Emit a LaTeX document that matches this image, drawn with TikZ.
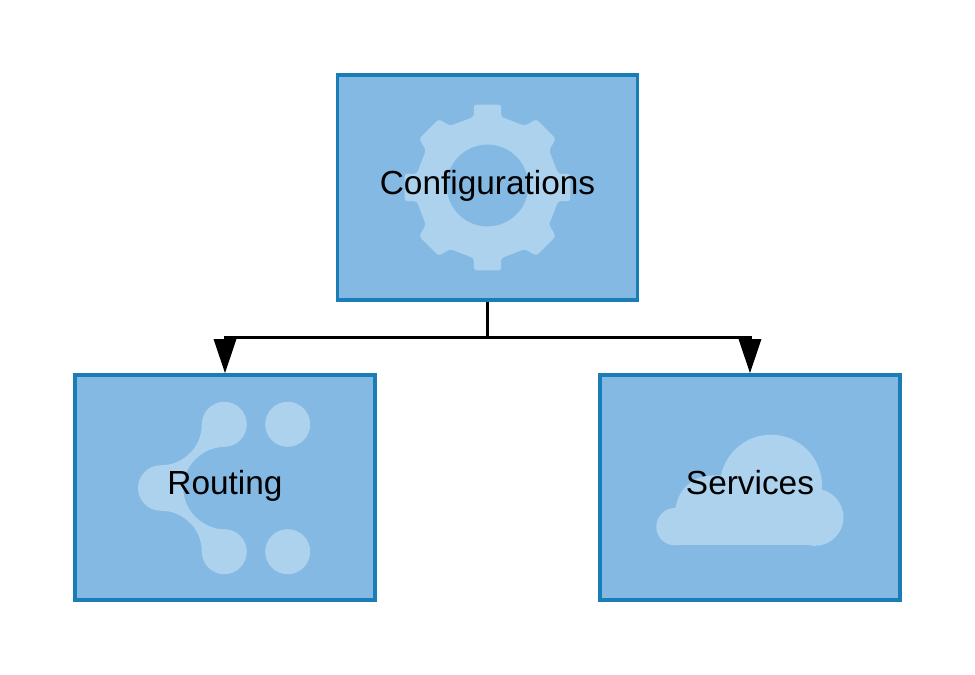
\documentclass[tikz,border=0pt]{standalone}
\usepackage{fontspec}
\setmainfont{Liberation Sans}
\usetikzlibrary{arrows.meta, positioning, backgrounds, calc}
\definecolor{boxfill}{RGB}{132,185,228}
\definecolor{boxline}{RGB}{27,125,182}
\definecolor{iconfill}{RGB}{173,210,238}
\begin{document}
\begin{tikzpicture}[
        box/.style={draw=boxline, line width=0.035cm, minimum width=3cm,
                    minimum height=2.25cm, inner sep=0pt, text height=0.22cm, text depth=0.08cm,
                    font=\fontsize{9.5}{11}\selectfont},
        icon/.style={fill=iconfill},
        conn/.style={black, line width=0.03cm},
        arr/.style={conn, -{Triangle[length=0.34cm, width=0.22cm]}}
      ]
        \useasboundingbox (0,0) rectangle (9.75,6.75);
        \node[box] (config)   at (4.875,4.875) {Configurations};
        \node[box] (routing)  at (2.25,1.875)  {Routing};
        \node[box] (services) at (7.5,1.875)   {Services};
        \coordinate (hub) at (4.875,3.375);
        % Box fills and icons go behind the labels
        \begin{scope}[on background layer, shift={(config.center)}]
          \fill[boxfill] (config.south west) rectangle (config.north east);
          \fill[icon, rounded corners=0.03cm, even odd rule]
            (-31.2:0.72) foreach \a/\b in {0/10.8,45/13.8,90/10.8,135/13.8,180/10.8,225/13.8,270/10.8,315/13.8} {
              -- (\a-\b:0.72) -- (\a-9.5:0.84) -- (\a+9.5:0.84) -- (\a+\b:0.72)
            } -- cycle
            (0.41,0.02) arc[start angle=0, end angle=360, radius=0.41];
        \end{scope}
        \begin{scope}[on background layer, shift={(routing.center)}]
          \fill[boxfill] (routing.south west) rectangle (routing.north east);
          \fill[icon] (-0.643,-0.005) circle (0.227);
          \foreach \p in {(-0.007,0.632), (0.627,0.632), (-0.007,-0.642), (0.627,-0.642)}
            \fill[icon] \p circle (0.225);
          \fill[icon] (-0.232,0.632) .. controls (-0.23,0.4) and (-0.42,0.222) .. (-0.643,0.222)
            -- (-0.643,-0.232) .. controls (-0.42,-0.232) and (-0.23,-0.41) .. (-0.232,-0.642)
            -- (-0.007,-0.642) -- (-0.007,-0.42) .. controls (-0.23,-0.41) and (-0.417,-0.23) .. (-0.417,-0.005)
            .. controls (-0.417,0.22) and (-0.23,0.4) .. (-0.007,0.407) -- (-0.007,0.632) -- cycle;
        \end{scope}
        \begin{scope}[on background layer, shift={(services.center)}]
          \fill[boxfill] (services.south west) rectangle (services.north east);
          \fill[icon] (0.21,0.018) circle (0.51);
          \fill[icon] (-0.75,-0.392) circle (0.187);
          \fill[icon] (-0.745,-0.245) arc[start angle=180, end angle=90, radius=0.365] -- (0,0.12) -- (0,-0.5) -- (-0.745,-0.5) -- cycle;
          \fill[icon] (0.65,-0.298) circle (0.285);
          \fill[icon] (-0.75,-0.579) rectangle (0.65,-0.2);
        \end{scope}
        % Tree from the top box
        \draw[conn] (config.south) -- (hub);
        \draw[arr] (hub) -| (routing.north);
        \draw[arr] (hub) -| (services.north);
      \end{tikzpicture}
\end{document}
